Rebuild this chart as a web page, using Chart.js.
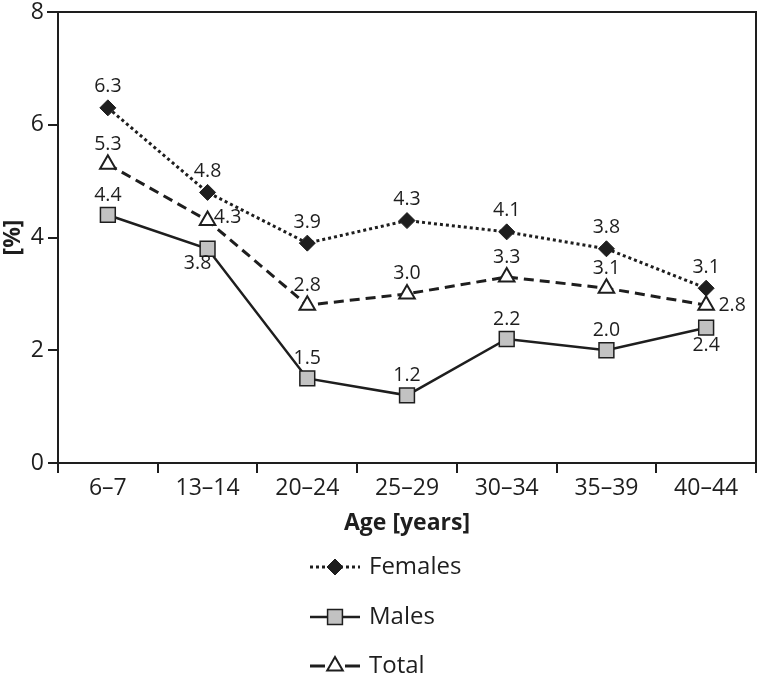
<!DOCTYPE html>
<html><head><meta charset="utf-8">
<script src="https://cdn.jsdelivr.net/npm/chart.js@4.4.1/dist/chart.umd.min.js"></script>
<style>html,body{margin:0;padding:0;background:#fff}</style>
</head><body>
<canvas id="c" width="768" height="677"></canvas>
<script>
const categories = ['6–7','13–14','20–24','25–29','30–34','35–39','40–44'];
const females = [6.3,4.8,3.9,4.3,4.1,3.8,3.1];
const males = [4.4,3.8,1.5,1.2,2.2,2.0,2.4];
const total = [5.3,4.3,2.8,3.0,3.3,3.1,2.8];
const yTicks = [0,2,4,6,8];
const seriesNames = ['Females','Males','Total'];
const xTitle = 'Age [years]';
const yTitle = '[%]';

// label placement (dx, dy in px relative to each point) - style only
const labelOffsets = [
  [[0,-21],[0,-21],[0,-21],[0,-21],[0,-21],[0,-21],[0,-21]],
  [[0,-20],[-10,15],[0,-20],[0,-20],[0,-20],[0,-20],[0,18]],
  [[0,-20],[20,-3],[0,-20],[0,-20],[0,-20],[0,-20],[26,0]]
];

const INK = '#1e1e1e';
const FONT = "'Open Sans', 'Noto Sans', sans-serif";

const frame = {
  id: 'frame',
  afterDraw(chart) {
    const {ctx, chartArea: a} = chart;
    ctx.save();
    ctx.strokeStyle = INK; ctx.lineWidth = 2; ctx.setLineDash([]);
    ctx.beginPath();
    ctx.moveTo(a.left - 11, a.top); ctx.lineTo(a.right, a.top); ctx.lineTo(a.right, a.bottom);
    ctx.stroke();
    ctx.restore();
  }
};

const valueLabels = {
  id: 'valueLabels',
  afterDatasetsDraw(chart) {
    const ctx = chart.ctx;
    ctx.save();
    ctx.font = "19.5px " + FONT;
    ctx.fillStyle = INK;
    ctx.textAlign = 'center';
    ctx.textBaseline = 'middle';
    chart.data.datasets.forEach((ds, di) => {
      const meta = chart.getDatasetMeta(di);
      meta.data.forEach((pt, i) => {
        const off = labelOffsets[di][i];
        ctx.fillText(ds.data[i].toFixed(1), pt.x + off[0], pt.y + off[1]);
      });
    });
    ctx.restore();
  }
};

const customLegend = {
  id: 'customLegend',
  afterDraw(chart) {
    const ctx = chart.ctx;
    const rows = [567, 617, 666];
    const x0 = 310, x1 = 360, xm = 335, xt = 369;
    ctx.save();
    chart.data.datasets.forEach((ds, di) => {
      const y = rows[di];
      ctx.strokeStyle = ds.borderColor;
      ctx.lineWidth = ds.borderWidth;
      ctx.setLineDash(di === 2 ? [15, 20] : (ds.borderDash || []));
      ctx.beginPath(); ctx.moveTo(x0, y); ctx.lineTo(x1, y); ctx.stroke();
      ctx.setLineDash([]);
      ctx.fillStyle = ds.pointBackgroundColor;
      ctx.strokeStyle = ds.pointBorderColor;
      ctx.lineWidth = ds.pointBorderWidth;
      Chart.helpers.drawPoint(ctx, {pointStyle: ds.pointStyle, radius: ds.pointRadius, borderWidth: ds.pointBorderWidth, rotation: 0}, xm, y);
      ctx.fillStyle = INK;
      ctx.font = "24px " + FONT;
      ctx.textAlign = 'left';
      ctx.textBaseline = 'middle';
      ctx.fillText(ds.label, xt, y);
    });
    ctx.restore();
  }
};

new Chart(document.getElementById('c'), {
  type: 'line',
  data: {
    labels: categories,
    datasets: [
      { label: seriesNames[0], data: females, borderColor: INK, borderWidth: 3, borderDash: [3, 3],
        pointStyle: 'rectRot', pointRadius: 8, pointHoverRadius: 8, pointBackgroundColor: INK, pointBorderColor: INK, pointBorderWidth: 1, tension: 0 },
      { label: seriesNames[1], data: males, borderColor: INK, borderWidth: 2.5,
        pointStyle: 'rect', pointRadius: 10.5, pointHoverRadius: 10.5, pointBackgroundColor: '#c2c2c2', pointBorderColor: INK, pointBorderWidth: 1.5, tension: 0 },
      { label: seriesNames[2], data: total, borderColor: INK, borderWidth: 3, borderDash: [10, 6],
        pointStyle: 'triangle', pointRadius: 9, pointHoverRadius: 9, pointBackgroundColor: '#ffffff', pointBorderColor: INK, pointBorderWidth: 2, tension: 0 }
    ]
  },
  options: {
    responsive: false,
    animation: false,
    events: [],
    layout: { padding: { top: 12, right: 3, left: 0, bottom: 134 } },
    plugins: { legend: { display: false }, tooltip: { enabled: false } },
    scales: {
      x: {
        type: 'category',
        offset: true,
        grid: { offset: true, drawOnChartArea: false, drawTicks: true, tickLength: 10, color: INK, lineWidth: 2 },
        border: { display: true, color: INK, width: 2 },
        ticks: { color: INK, font: { family: FONT, size: 23 }, padding: 2, maxRotation: 0, autoSkip: false },
        title: { display: true, text: xTitle, color: INK, font: { family: FONT, size: 23, weight: 'bold' }, padding: { top: 0, bottom: 6 } },
        afterFit(scale) { scale.height = 80; scale.paddingLeft = 0; scale.paddingRight = 0; }
      },
      y: {
        min: 0, max: 8,
        afterBuildTicks(scale) { scale.ticks = yTicks.map(v => ({ value: v })); },
        grid: { drawOnChartArea: false, drawTicks: true, tickLength: 10, color: INK, lineWidth: 2 },
        border: { display: true, color: INK, width: 2 },
        ticks: { color: INK, font: { family: FONT, size: 23 }, padding: 4 },
        title: { display: true, text: yTitle, color: INK, font: { family: FONT, size: 23, weight: 'bold' }, padding: { top: 0, bottom: 0 } },
        afterFit(scale) { scale.width = 58; scale.paddingTop = 0; scale.paddingBottom = 0; }
      }
    }
  },
  plugins: [frame, valueLabels, customLegend]
});
</script>
</body></html>
